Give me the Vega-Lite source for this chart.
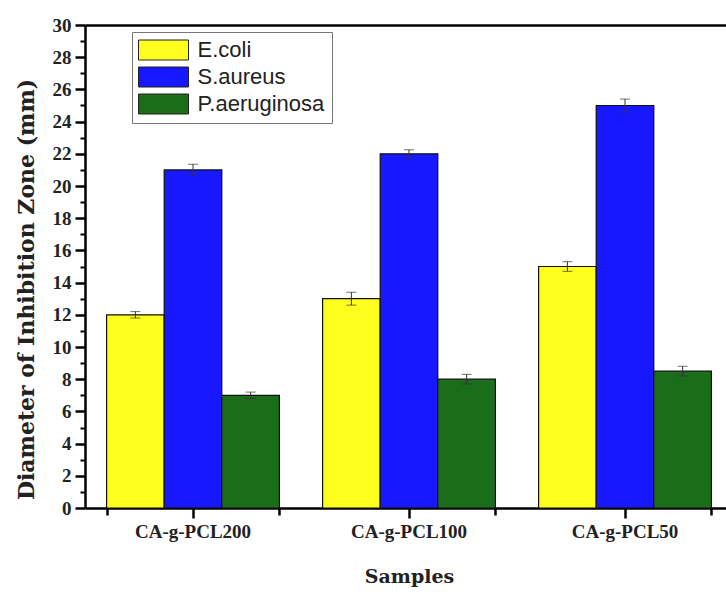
{
  "$schema": "https://vega.github.io/schema/vega-lite/v6.json",
  "width": 641,
  "height": 483,
  "autosize": {"type": "none"},
  "padding": {"left": 85, "top": 25, "right": 0, "bottom": 84},
  "background": "white",
  "config": {
    "view": {"stroke": null},
    "axis": {"domainColor": "black", "tickColor": "black", "labelColor": "#222", "titleColor": "#222", "grid": false}
  },
  "data": {"values": [
    {"Sample": "CA-g-PCL200", "Organism": "E.coli", "value": 12, "lo": 11.8, "hi": 12.2},
    {"Sample": "CA-g-PCL200", "Organism": "S.aureus", "value": 21, "lo": 20.65, "hi": 21.35},
    {"Sample": "CA-g-PCL200", "Organism": "P.aeruginosa", "value": 7, "lo": 6.8, "hi": 7.2},
    {"Sample": "CA-g-PCL100", "Organism": "E.coli", "value": 13, "lo": 12.6, "hi": 13.4},
    {"Sample": "CA-g-PCL100", "Organism": "S.aureus", "value": 22, "lo": 21.75, "hi": 22.25},
    {"Sample": "CA-g-PCL100", "Organism": "P.aeruginosa", "value": 8, "lo": 7.7, "hi": 8.3},
    {"Sample": "CA-g-PCL50", "Organism": "E.coli", "value": 15, "lo": 14.7, "hi": 15.3},
    {"Sample": "CA-g-PCL50", "Organism": "S.aureus", "value": 25, "lo": 24.6, "hi": 25.4},
    {"Sample": "CA-g-PCL50", "Organism": "P.aeruginosa", "value": 8.5, "lo": 8.2, "hi": 8.8}
  ]},
  "encoding": {
    "x": {"field": "Sample", "type": "nominal", "sort": ["CA-g-PCL200", "CA-g-PCL100", "CA-g-PCL50"],
      "scale": {"range": [0, 648], "paddingInner": 0.2, "paddingOuter": 0.1}},
    "xOffset": {"field": "Organism", "type": "nominal", "sort": ["E.coli", "S.aureus", "P.aeruginosa"],
      "scale": {"paddingInner": 0, "paddingOuter": 0}}
  },
  "layer": [
    {
      "mark": {"type": "bar", "stroke": "#111", "strokeWidth": 1.2},
      "encoding": {
        "x": {"field": "Sample", "type": "nominal", "sort": ["CA-g-PCL200", "CA-g-PCL100", "CA-g-PCL50"],
          "axis": {"orient": "bottom", "title": "Samples", "labelAngle": 0, "labelFont": "Liberation Serif", "labelFontWeight": "bold", "labelFontSize": 19, "labelPadding": 4,
            "tickSize": 10, "tickWidth": 2.5, "domainWidth": 2.5, "titleFont": "DejaVu Serif", "titleFontWeight": "bold", "titleFontSize": 19, "titlePadding": 26}},
        "y": {"field": "value", "type": "quantitative", "scale": {"domain": [0, 30], "nice": false},
          "axis": {"orient": "left", "values": [0, 2, 4, 6, 8, 10, 12, 14, 16, 18, 20, 22, 24, 26, 28, 30], "tickSize": 10, "tickWidth": 2.5, "domainWidth": 2.5,
            "labelFont": "Liberation Serif", "labelFontWeight": "bold", "labelFontSize": 19, "labelPadding": 4,
            "title": "Diameter of Inhibition Zone (mm)", "titleFont": "DejaVu Serif", "titleFontWeight": "bold", "titleFontSize": 22,
            "titleX": -52, "titleY": 264, "titleBaseline": "alphabetic", "titleAlign": "center", "titleAngle": -90}},
        "color": {"field": "Organism", "type": "nominal",
          "scale": {"domain": ["E.coli", "S.aureus", "P.aeruginosa"], "range": ["#ffff1e", "#1818ff", "#1a6e1a"]},
          "legend": {"orient": "none", "legendX": 47, "legendY": 7, "title": null, "strokeColor": "#777", "fillColor": "white", "padding": 7,
            "symbolType": "M-2.5,-1L2.5,-1L2.5,1L-2.5,1Z", "symbolSize": 400, "symbolOffset": 13.5, "symbolStrokeColor": "#222", "symbolStrokeWidth": 1, "symbolOpacity": 1,
            "labelFont": "Liberation Sans", "labelFontSize": 22, "labelColor": "#222", "labelOffset": 23, "rowPadding": 3, "labelLimit": 300}}
      }
    },
    {
      "mark": {"type": "rule", "color": "#333", "strokeWidth": 1},
      "encoding": {
        "x": {"field": "Sample", "type": "nominal", "sort": ["CA-g-PCL200", "CA-g-PCL100", "CA-g-PCL50"],
          "axis": {"orient": "bottom", "tickBand": "extent", "tickSize": 7, "tickWidth": 2.5, "labels": false, "domain": false, "title": null}},
        "y": {"field": "lo", "type": "quantitative",
          "axis": {"orient": "left", "values": [1, 3, 5, 7, 9, 11, 13, 15, 17, 19, 21, 23, 25, 27, 29], "tickSize": 5, "tickWidth": 2, "labels": false, "domain": false, "title": null}},
        "y2": {"field": "hi"}
      }
    },
    {
      "mark": {"type": "tick", "color": "#333", "size": 10, "thickness": 1},
      "encoding": {
        "x": {"field": "Sample", "type": "nominal", "sort": ["CA-g-PCL200", "CA-g-PCL100", "CA-g-PCL50"],
          "axis": {"orient": "top", "ticks": false, "labels": false, "domain": true, "domainWidth": 2.5, "title": null}},
        "y": {"field": "lo", "type": "quantitative", "axis": null}
      }
    },
    {
      "mark": {"type": "tick", "color": "#333", "size": 10, "thickness": 1},
      "encoding": {
        "x": {"field": "Sample", "type": "nominal", "sort": ["CA-g-PCL200", "CA-g-PCL100", "CA-g-PCL50"], "axis": null},
        "y": {"field": "hi", "type": "quantitative", "axis": null}
      }
    }
  ],
  "resolve": {"axis": {"x": "independent", "y": "independent"}}
}
